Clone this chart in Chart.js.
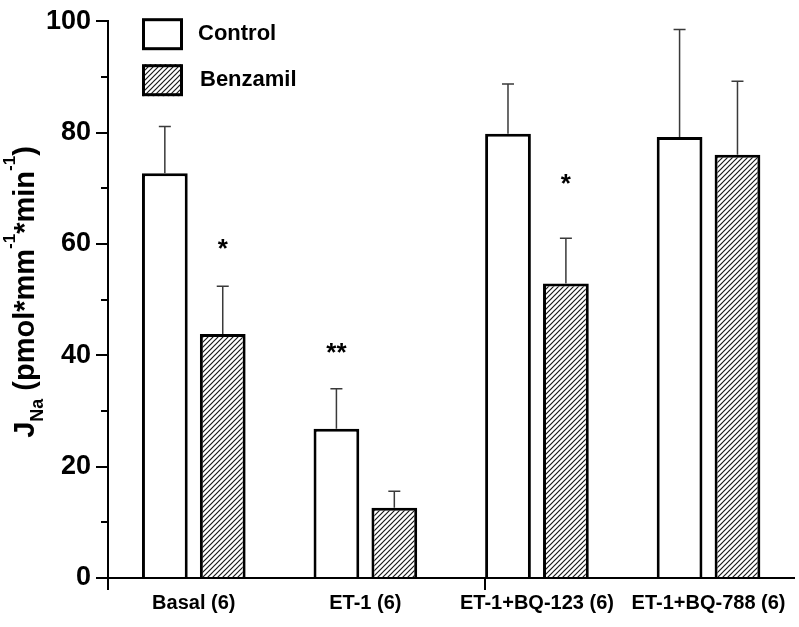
<!DOCTYPE html>
<html lang="en">
<head>
    <meta charset="UTF-8" />
    <title>JNa - Control vs Benzamil</title>
    <script src="https://cdn.jsdelivr.net/npm/chart.js"></script>
    <style>
        html, body { margin: 0; padding: 0; background: #fff; }
    </style>
</head>
<body>
    <canvas id="jnaChart" width="799" height="627"></canvas>

    <script>
        // data
        const categories = ['Basal (6)', 'ET-1 (6)', 'ET-1+BQ-123 (6)', 'ET-1+BQ-788 (6)'];
        const controlValues = [72.7, 26.8, 79.8, 79.2];
        const controlSem = [8.4, 7.2, 8.9, 19.3];
        const benzamilValues = [43.8, 12.6, 52.9, 76.0];
        const benzamilSem = [8.6, 3.0, 8.1, 13.2];
        const yTickLabels = [0, 20, 40, 60, 80, 100];
        const xTickMarks = [-0.5, 1.7];
        // significance marks: dataset, category index, y value of the glyph centre
        const starDataset = [1, 0, 1];
        const starIndex = [0, 1, 2];
        const starValue = [59.9, 41.3, 71.7];
        const starText = ['*', '**', '*'];

        const FONT = '"Liberation Sans", Arial, Helvetica, sans-serif';

        function makeHatch() {
            const s = 5;
            const c = document.createElement('canvas');
            c.width = s; c.height = s;
            const g = c.getContext('2d');
            g.fillStyle = '#fff';
            g.fillRect(0, 0, s, s);
            g.strokeStyle = '#1a1a1a';
            g.lineWidth = 1.2;
            g.beginPath();
            g.moveTo(0, s); g.lineTo(s, 0);
            g.moveTo(-1, 1); g.lineTo(1, -1);
            g.moveTo(s - 1, s + 1); g.lineTo(s + 1, s - 1);
            g.stroke();
            return g.createPattern(c, 'repeat');
        }
        const hatch = makeHatch();

        const errorBars = {
            id: 'errorBars',
            afterDatasetsDraw(chart) {
                const ctx = chart.ctx;
                const y = chart.scales.y;
                ctx.save();
                ctx.strokeStyle = '#3a3a3a';
                ctx.lineWidth = 1.5;
                chart.data.datasets.forEach((ds, di) => {
                    const meta = chart.getDatasetMeta(di);
                    meta.data.forEach((bar, i) => {
                        const top = y.getPixelForValue(ds.data[i] + ds.sem[i]);
                        ctx.beginPath();
                        ctx.moveTo(bar.x, bar.y);
                        ctx.lineTo(bar.x, top);
                        ctx.moveTo(bar.x - 6, top);
                        ctx.lineTo(bar.x + 6, top);
                        ctx.stroke();
                    });
                });
                // significance stars
                ctx.fillStyle = '#000';
                ctx.font = 'bold 26px ' + FONT;
                ctx.textAlign = 'center';
                ctx.textBaseline = 'alphabetic';
                starText.forEach((t, k) => {
                    const bar = chart.getDatasetMeta(starDataset[k]).data[starIndex[k]];
                    const m = ctx.measureText(t);
                    const yc = y.getPixelForValue(starValue[k]);
                    ctx.fillText(t, bar.x, yc + (m.actualBoundingBoxAscent - m.actualBoundingBoxDescent) / 2);
                });
                ctx.restore();
            }
        };

        const axisExtras = {
            id: 'axisExtras',
            afterDraw(chart) {
                const ctx = chart.ctx;
                const x = chart.scales.x;
                const y = chart.scales.y;
                const area = chart.chartArea;
                ctx.save();
                ctx.strokeStyle = '#000';
                ctx.lineWidth = 2;
                ctx.beginPath();
                // minor y ticks
                y.ticks.forEach(t => {
                    if (t.value % 20 !== 0) {
                        const py = Math.round(y.getPixelForValue(t.value));
                        ctx.moveTo(area.left - 7, py);
                        ctx.lineTo(area.left, py);
                    }
                });
                // x tick marks
                xTickMarks.forEach(v => {
                    const px = Math.round(x.getPixelForValue(v));
                    ctx.moveTo(px, area.bottom);
                    ctx.lineTo(px, area.bottom + 12);
                });
                ctx.stroke();

                // legend
                const lx = area.left + 34;
                const ly = area.top - 3;
                const items = chart.data.datasets;
                items.forEach((ds, i) => {
                    const by = ly + i * 46;
                    ctx.fillStyle = ds.backgroundColor;
                    ctx.fillRect(lx, by, 41, 32);
                    ctx.lineWidth = 3;
                    ctx.strokeRect(lx + 1.5, by + 1.5, 38, 29);
                    ctx.fillStyle = '#000';
                    ctx.font = 'bold 22px ' + FONT;
                    ctx.textAlign = 'left';
                    ctx.textBaseline = 'middle';
                    ctx.fillText(ds.label, lx + 56 + i * 2, by + 16);
                });

                // y title with sub/superscripts, rotated
                const parts = [
                    { t: 'J', s: 29, dy: 0 },
                    { t: 'Na', s: 18, dy: 9 },
                    { t: ' (pmol*mm', s: 29, dy: 0 },
                    { t: '-1', s: 17, dy: -19 },
                    { t: '*min', s: 29, dy: 0 },
                    { t: '-1', s: 17, dy: -19 },
                    { t: ')', s: 29, dy: 0 }
                ];
                let total = 0;
                parts.forEach(p => {
                    ctx.font = 'bold ' + p.s + 'px ' + FONT;
                    p.w = ctx.measureText(p.t).width;
                    total += p.w;
                });
                ctx.translate(34, 292);
                ctx.rotate(-Math.PI / 2);
                ctx.textAlign = 'left';
                ctx.textBaseline = 'alphabetic';
                let cx = -total / 2;
                parts.forEach(p => {
                    ctx.font = 'bold ' + p.s + 'px ' + FONT;
                    ctx.fillText(p.t, cx, p.dy);
                    cx += p.w;
                });
                ctx.restore();
            }
        };

        new Chart(document.getElementById('jnaChart'), {
            type: 'bar',
            data: {
                labels: categories,
                datasets: [
                    {
                        label: 'Control',
                        data: controlValues,
                        sem: controlSem,
                        backgroundColor: '#ffffff',
                        borderColor: '#000',
                        borderWidth: 3
                    },
                    {
                        label: 'Benzamil',
                        data: benzamilValues,
                        sem: benzamilSem,
                        backgroundColor: hatch,
                        borderColor: '#000',
                        borderWidth: 3
                    }
                ]
            },
            options: {
                responsive: false,
                animation: false,
                devicePixelRatio: 1,
                categoryPercentage: 0.675,
                barPercentage: 0.79,
                layout: { padding: { top: 20, right: 4, left: 0, bottom: 0 } },
                plugins: {
                    legend: { display: false },
                    tooltip: { enabled: false }
                },
                scales: {
                    x: {
                        offset: true,
                        grid: { display: false, drawTicks: false },
                        border: { color: '#000', width: 2 },
                        ticks: {
                            color: '#000',
                            padding: 13,
                            maxRotation: 0,
                            autoSkip: false,
                            font: { family: FONT, size: 20, weight: 'bold' }
                        },
                        afterFit(scale) { scale.height = 49; }
                    },
                    y: {
                        min: 0,
                        max: 100,
                        grid: {
                            drawOnChartArea: false,
                            tickLength: 12,
                            lineWidth: 2,
                            color: c => yTickLabels.includes(c.tick.value) ? '#000' : 'rgba(0,0,0,0)'
                        },
                        border: { color: '#000', width: 2 },
                        ticks: {
                            stepSize: 10,
                            color: '#000',
                            padding: 5,
                            font: { family: FONT, size: 27, weight: 'bold' },
                            callback: v => yTickLabels.includes(v) ? v : ''
                        },
                        afterFit(scale) { scale.width = 108; }
                    }
                }
            },
            plugins: [errorBars, axisExtras]
        });
    </script>
</body>
</html>
